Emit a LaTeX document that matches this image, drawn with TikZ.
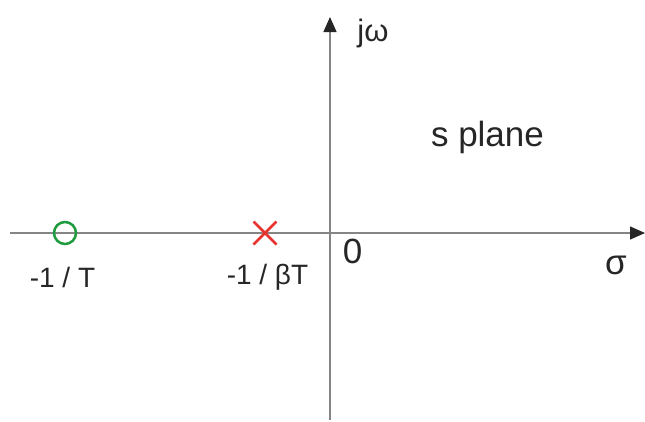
\documentclass[tikz,border=0pt]{standalone}
\usepackage{fontspec}
\setmainfont{Liberation Sans}
\usetikzlibrary{arrows.meta}
\definecolor{axisgray}{HTML}{858585}
\definecolor{zerogreen}{HTML}{1E9B3E}
\definecolor{polered}{HTML}{E63530}
\begin{document}
\begin{tikzpicture}[x=1pt,y=-1pt,
  axis/.style={draw=axisgray,line width=1.4pt,-{Triangle[length=15pt,width=13pt,fill=black!85,color=black!85]}},
  lbl/.style={font=\fontsize{28}{32}\selectfont,inner sep=0pt,text=black!85},
  big/.style={font=\fontsize{35}{40}\selectfont,inner sep=0pt,text=black!85},
  zeromark/.style={circle,draw=zerogreen,line width=2.5pt,minimum size=22pt,inner sep=0pt},
  polemark/.style={draw=polered,line width=2.5pt}]
\useasboundingbox (0,0) rectangle (645,421);
\coordinate (xl) at (10,233);
\coordinate (xr) at (645,233);
\coordinate (yb) at (330,420);
\coordinate (yt) at (330,17);
\draw[axis] (xl) -- (xr);
\draw[axis] (yb) -- (yt);
\node[zeromark] (z) at (65,233) {};
\coordinate (p) at (265,233);
\draw[polemark] ([shift={(-11.5,-11.5)}]p) -- ([shift={(11.5,11.5)}]p);
\draw[polemark] ([shift={(-11.5,11.5)}]p) -- ([shift={(11.5,-11.5)}]p);
\node[lbl] (lz) at (62.5,277) {-1 / T};
\node[lbl] (lp) at (267.5,277) {-1 / βT};
\node[big] (o) at (352.5,251) {0};
\node[big] (sig) at (616,265) {σ};
\node[lbl,font=\fontsize{31}{36}\selectfont] (jw) at (373,33) {jω};
\node[big] (sp) at (487.5,137) {s plane};
\end{tikzpicture}
\end{document}
